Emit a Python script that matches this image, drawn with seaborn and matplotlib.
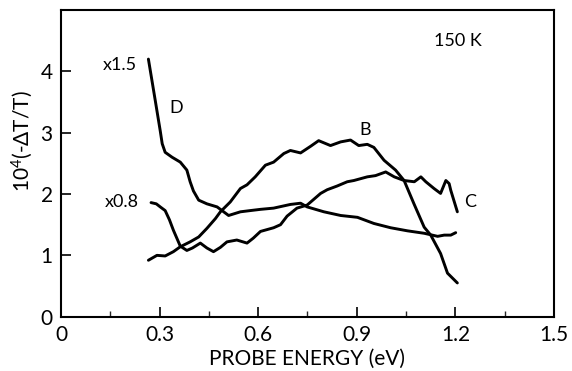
import matplotlib
matplotlib.use("Agg")
import matplotlib.pyplot as plt
from matplotlib.ticker import MultipleLocator
import numpy as np
import pandas as pd
import seaborn as sns

# Differential transmission spectra at 150 K (curves B, C, D)
b_energy = [0.266, 0.292, 0.317, 0.342, 0.363, 0.393, 0.419, 0.444, 0.470, 0.485,
            0.515, 0.546, 0.566, 0.591, 0.622, 0.647, 0.678, 0.698, 0.729, 0.760,
            0.784, 0.820, 0.851, 0.881, 0.906, 0.932, 0.952, 0.983, 1.018, 1.044,
            1.074, 1.105, 1.125, 1.155, 1.176, 1.206]
b_signal = [0.92, 1.00, 0.99, 1.06, 1.14, 1.22, 1.30, 1.44, 1.60, 1.71,
            1.87, 2.09, 2.15, 2.28, 2.47, 2.52, 2.66, 2.71, 2.67, 2.78,
            2.87, 2.79, 2.85, 2.88, 2.79, 2.81, 2.76, 2.55, 2.39, 2.22,
            1.84, 1.46, 1.33, 1.03, 0.71, 0.55]

c_energy = [0.274, 0.290, 0.302, 0.317, 0.330, 0.342, 0.363, 0.383, 0.400, 0.424,
            0.444, 0.464, 0.485, 0.505, 0.535, 0.566, 0.585, 0.607, 0.647, 0.668,
            0.688, 0.718, 0.749, 0.790, 0.810, 0.840, 0.871, 0.891, 0.932, 0.957,
            0.988, 1.014, 1.044, 1.075, 1.095, 1.110, 1.135, 1.155, 1.171, 1.181,
            1.186, 1.206]
c_signal = [1.86, 1.84, 1.79, 1.73, 1.58, 1.41, 1.15, 1.08, 1.12, 1.20,
            1.12, 1.06, 1.13, 1.22, 1.25, 1.20, 1.28, 1.39, 1.45, 1.50,
            1.64, 1.77, 1.82, 2.01, 2.07, 2.13, 2.20, 2.22, 2.28, 2.30,
            2.36, 2.28, 2.22, 2.20, 2.28, 2.20, 2.09, 2.01, 2.22, 2.17,
            2.06, 1.71]

d_energy = [0.266, 0.287, 0.302, 0.308, 0.317, 0.338, 0.363, 0.383, 0.393, 0.403,
            0.419, 0.444, 0.475, 0.510, 0.546, 0.576, 0.607, 0.647, 0.698, 0.729,
            0.749, 0.800, 0.851, 0.902, 0.952, 1.003, 1.054, 1.105, 1.146, 1.166,
            1.186, 1.201]
d_signal = [4.20, 3.52, 3.03, 2.82, 2.68, 2.60, 2.52, 2.39, 2.20, 2.05,
            1.90, 1.84, 1.79, 1.65, 1.71, 1.73, 1.75, 1.77, 1.83, 1.85,
            1.79, 1.71, 1.65, 1.62, 1.52, 1.45, 1.40, 1.36, 1.31, 1.33,
            1.33, 1.37]

x_ticks = [0, 0.3, 0.6, 0.9, 1.2, 1.5]
x_tick_labels = ["0", "0.3", "0.6", "0.9", "1.2", "1.5"]
y_ticks = [0, 1, 2, 3, 4]
y_tick_labels = ["0", "1", "2", "3", "4"]

frames = []
for name, xs, ys in [("B", b_energy, b_signal), ("C", c_energy, c_signal),
                     ("D", d_energy, d_signal)]:
    frames.append(pd.DataFrame({"energy": xs, "signal": ys, "curve": name}))
data = pd.concat(frames, ignore_index=True)

sns.set_style("ticks")
plt.rcParams["font.family"] = ["Lato", "DejaVu Sans"]
plt.rcParams["font.weight"] = "normal"
plt.rcParams["mathtext.fontset"] = "custom"
plt.rcParams["mathtext.rm"] = "Lato"
plt.rcParams["mathtext.it"] = "Lato"

fig = plt.figure(figsize=(5.72, 3.71), dpi=100)
ax = fig.add_axes([0.1066, 0.1464, 0.8619, 0.8266])

sns.lineplot(data=data, x="energy", y="signal", units="curve", estimator=None,
             sort=False, color="black", lw=2.1, ax=ax, legend=False)

ax.set_xlim(0, 1.5)
ax.set_ylim(0, 5)
ax.set_xticks(x_ticks)
ax.set_xticklabels(x_tick_labels)
ax.set_yticks(y_ticks)
ax.set_yticklabels(y_tick_labels)
ax.xaxis.set_minor_locator(MultipleLocator(0.15))
ax.tick_params(axis="both", which="major", direction="in", length=7, width=1.2,
               labelsize=15, color="black", labelcolor="black", pad=6)
ax.tick_params(axis="x", which="minor", direction="in", length=4, width=1.0)
ax.tick_params(axis="y", which="minor", length=0)
for side in ax.spines.values():
    side.set_linewidth(1.5)
    side.set_color("black")

ax.set_xlabel("PROBE ENERGY (eV)", fontsize=15, color="black", labelpad=3)
ax.set_ylabel("")
ax.text(-0.079, 0.573, "10$^4$(-\u0394T/T)", transform=ax.transAxes,
        rotation=90, ha="center", va="center", fontsize=15, color="black")

txt = dict(color="black", fontsize=13, ha="center", va="center")
ax.text(0.180, 4.11, "x1.5", **txt)
ax.text(0.351, 3.41, "D", **txt)
ax.text(0.186, 1.87, "x0.8", **txt)
ax.text(0.924, 3.04, "B", **txt)
ax.text(1.244, 1.87, "C", **txt)
ax.text(1.207, 4.50, "150 K", **txt)

fig.savefig("out.png", dpi=100)
